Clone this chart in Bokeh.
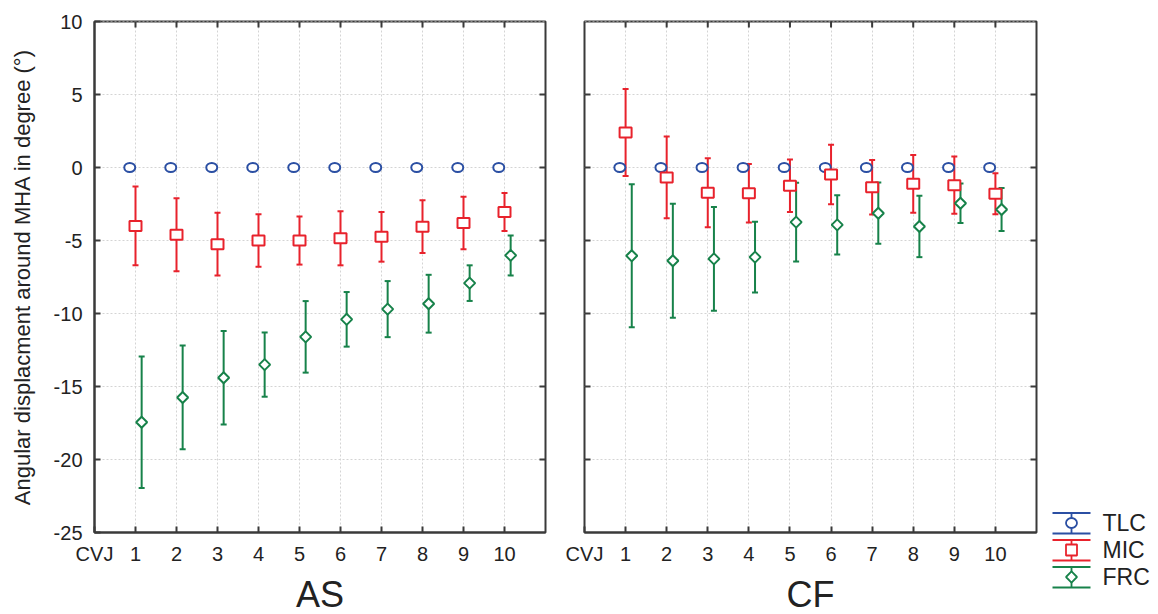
from math import pi
from bokeh.plotting import figure
from bokeh.models import ColumnDataSource, Range1d, FixedTicker, Whisker, TeeHead
from bokeh.layouts import row, column
from bokeh.embed import file_html
from bokeh.resources import INLINE
from bokeh.core.properties import value

# ---------------- data ----------------
joints = ["CVJ", "1", "2", "3", "4", "5", "6", "7", "8", "9", "10"]
data_joints = ["1", "2", "3", "4", "5", "6", "7", "8", "9", "10"]
y_ticks = [-25, -20, -15, -10, -5, 0, 5, 10]
y_tick_labels = ["-25", "-20", "-15", "-10", "-5", "0", "5", "10"]
series = ["TLC", "MIC", "FRC"]
groups = ["AS", "CF"]

as_tlc_mean = [0, 0, 0, 0, 0, 0, 0, 0, 0, 0]
as_tlc_err = [0, 0, 0, 0, 0, 0, 0, 0, 0, 0]
as_mic_mean = [-4.0, -4.6, -5.25, -5.0, -5.0, -4.85, -4.75, -4.05, -3.8, -3.05]
as_mic_err = [2.7, 2.5, 2.15, 1.8, 1.65, 1.85, 1.7, 1.8, 1.8, 1.3]
as_frc_mean = [-17.45, -15.75, -14.4, -13.5, -11.6, -10.4, -9.7, -9.33, -7.92, -6.02]
as_frc_err = [4.5, 3.55, 3.2, 2.2, 2.45, 1.87, 1.92, 1.98, 1.22, 1.37]

cf_tlc_mean = [0, 0, 0, 0, 0, 0, 0, 0, 0, 0]
cf_tlc_err = [0, 0, 0, 0, 0, 0, 0, 0, 0, 0]
cf_mic_mean = [2.4, -0.68, -1.73, -1.76, -1.25, -0.48, -1.35, -1.12, -1.21, -1.8]
cf_mic_err = [2.98, 2.8, 2.37, 2.0, 1.8, 2.03, 1.87, 1.98, 1.96, 1.4]
cf_frc_mean = [-6.05, -6.39, -6.26, -6.14, -3.74, -3.93, -3.13, -4.04, -2.45, -2.88]
cf_frc_err = [4.9, 3.9, 3.55, 2.42, 2.7, 2.03, 2.1, 2.1, 1.35, 1.47]

# ---------------- styles ----------------
COLORS = {"TLC": "#2B4FA3", "MIC": "#E8222C", "FRC": "#17824A"}
OFFSETS = {"TLC": -0.14, "MIC": 0.0, "FRC": 0.15}
FONT = "Liberation Sans"
AX = "#3a3a3a"
TXT = "#222222"
GRID = "#d4d4d4"
X0, X1 = 0, 11
Y0, Y1 = -25, 10
PANEL_H = 570
STRIP_H = 614 - PANEL_H


def style_axis(ax):
    ax.axis_line_color = AX
    ax.axis_line_width = 2
    ax.major_tick_line_color = AX
    ax.major_tick_line_width = 2
    ax.major_tick_in = 6
    ax.major_tick_out = 0
    ax.minor_tick_line_color = None
    ax.major_label_text_font = FONT
    ax.major_label_text_font_size = "20px"
    ax.major_label_text_color = TXT


def add_series(p, name, means, errs):
    xs = [joints.index(j) + OFFSETS[name] for j in data_joints]
    src = ColumnDataSource(dict(
        x=xs, y=means,
        upper=[m + e for m, e in zip(means, errs)],
        lower=[m - e for m, e in zip(means, errs)],
    ))
    c = COLORS[name]
    if any(e > 0 for e in errs):
        w = Whisker(base="x", upper="upper", lower="lower", source=src, dimension="height",
                    line_color=c, line_width=2,
                    upper_head=TeeHead(size=6, line_color=c, line_width=2),
                    lower_head=TeeHead(size=6, line_color=c, line_width=2))
        p.add_layout(w)
    if name == "TLC":
        p.ellipse("x", "y", width=11, height=9, width_units="screen", height_units="screen",
                  source=src, fill_color="white", line_color=c, line_width=2)
    elif name == "MIC":
        p.rect("x", "y", width=12, height=10, width_units="screen", height_units="screen",
               source=src, fill_color="white", line_color=c, line_width=2)
    else:
        p.scatter("x", "y", marker="square", angle=pi / 4, size=7.8, source=src,
                  fill_color="white", line_color=c, line_width=2)


def frame_ticks(p, left):
    # inward tick marks on the unlabeled frame edges (the outer half is clipped away)
    inner_x = list(range(1, len(joints)))
    inner_y = y_ticks[1:-1]
    p.rect(x=inner_x, y=[Y1] * len(inner_x), width=2, height=12,
           width_units="screen", height_units="screen", fill_color=AX, line_color=None)
    p.rect(x=[X1] * len(inner_y), y=inner_y, width=12, height=2,
           width_units="screen", height_units="screen", fill_color=AX, line_color=None)
    if left:
        p.rect(x=[X0] * len(inner_y), y=inner_y, width=12, height=2,
               width_units="screen", height_units="screen", fill_color=AX, line_color=None)


def make_panel(data, show_y, width, left, right):
    p = figure(width=width, height=PANEL_H, output_backend="svg", toolbar_location=None,
               title=None,
               x_range=Range1d(X0, X1), y_range=Range1d(Y0, Y1),
               y_axis_location="left" if show_y else None,
               min_border_left=left, min_border_right=right,
               min_border_top=21, min_border_bottom=PANEL_H - 532)
    p.outline_line_color = AX
    p.outline_line_width = 2
    p.background_fill_color = "white"
    p.border_fill_color = "white"

    xt = FixedTicker(ticks=list(range(len(joints))))
    yt = FixedTicker(ticks=y_ticks)

    xa = p.xaxis[0]
    xa.ticker = xt
    xa.major_label_overrides = {i: j for i, j in enumerate(joints)}
    style_axis(xa)
    xa.major_label_standoff = 10

    if show_y:
        ya = p.yaxis[0]
        ya.ticker = yt
        ya.major_label_overrides = {v: s for v, s in zip(y_ticks, y_tick_labels)}
        style_axis(ya)
        ya.major_label_standoff = 12
        ya.axis_label = "Angular displacment around MHA in degree (°)"
        ya.axis_label_text_font = FONT
        ya.axis_label_text_font_size = "22px"
        ya.axis_label_text_font_style = "normal"
        ya.axis_label_text_color = TXT
        ya.axis_label_standoff = 16

    p.xgrid[0].ticker = xt
    p.xgrid[0].grid_line_color = GRID
    p.xgrid[0].grid_line_dash = "2 2"
    p.ygrid.grid_line_color = None
    p.segment(x0=[X0] * len(y_ticks), x1=[X1] * len(y_ticks), y0=y_ticks, y1=y_ticks,
              line_color=GRID, line_dash="2 2", line_width=1, level="underlay")

    frame_ticks(p, not show_y)

    for name in series:
        m, e = data[name]
        add_series(p, name, m, e)
    return p


def make_strip(group, width, left, right):
    s = figure(width=width, height=STRIP_H, output_backend="svg", toolbar_location=None,
               title=None,
               x_range=Range1d(X0, X1), y_range=Range1d(0, STRIP_H),
               x_axis_type=None, y_axis_type=None,
               min_border_left=left, min_border_right=right, min_border_top=0, min_border_bottom=0)
    s.outline_line_color = None
    s.xgrid.visible = False
    s.ygrid.visible = False
    s.text(x=[(X0 + X1) / 2], y=[20], text=[group], text_font=value(FONT), text_font_size="36px",
           text_align="center", text_baseline="middle", text_color=TXT)
    return s


p1 = make_panel({"TLC": (as_tlc_mean, as_tlc_err), "MIC": (as_mic_mean, as_mic_err),
                 "FRC": (as_frc_mean, as_frc_err)}, True, 564, 94, 19)
p2 = make_panel({"TLC": (cf_tlc_mean, cf_tlc_err), "MIC": (cf_mic_mean, cf_mic_err),
                 "FRC": (cf_frc_mean, cf_frc_err)}, False, 478, 20, 6)
s1 = make_strip(groups[0], 564, 94, 19)
s2 = make_strip(groups[1], 478, 20, 6)

# ---------------- legend panel ----------------
p3 = figure(width=116, height=614, output_backend="svg", toolbar_location=None, title=None,
            x_range=Range1d(0, 116), y_range=Range1d(614, 0),
            x_axis_type=None, y_axis_type=None, min_border=0)
p3.outline_line_color = None
p3.xgrid.visible = False
p3.ygrid.visible = False
row_y = [522.5, 549.5, 576.5]
for name, yy in zip(series, row_y):
    c = COLORS[name]
    p3.segment(x0=[10, 10, 29], y0=[yy - 10, yy + 10.5, yy - 10], x1=[48, 48, 29],
               y1=[yy - 10, yy + 10.5, yy + 10.5], line_color=c, line_width=1.8)
    if name == "TLC":
        p3.ellipse(x=[29], y=[yy], width=11, height=10, width_units="screen", height_units="screen",
                   fill_color="white", line_color=c, line_width=1.8)
    elif name == "MIC":
        p3.rect(x=[29], y=[yy], width=11, height=11, width_units="screen", height_units="screen",
                fill_color="white", line_color=c, line_width=1.8)
    else:
        p3.scatter(x=[29], y=[yy], marker="square", angle=pi / 4, size=7.8,
                   fill_color="white", line_color=c, line_width=1.8)
    p3.text(x=[60], y=[yy], text=[name], text_font=value(FONT), text_font_size="23px",
            text_baseline="middle", text_align="left", text_color=TXT)

layout = row(column(p1, s1, spacing=0), column(p2, s2, spacing=0), p3, spacing=0)
open("out.html", "w").write(file_html(layout, INLINE))
